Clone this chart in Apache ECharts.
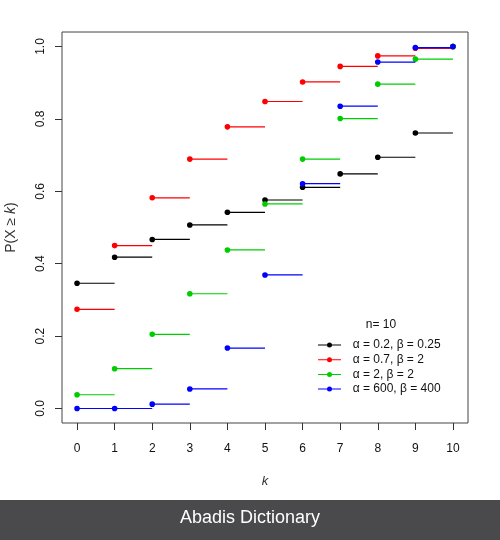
<!DOCTYPE html>
<html>
<head>
<meta charset="utf-8">
<script src="https://cdn.jsdelivr.net/npm/echarts@6/dist/echarts.min.js"></script>
<style>html,body{margin:0;padding:0;background:#fff}#c{width:500px;height:540px}</style>
</head>
<body>
<div id="c"></div>
<script>
// Data
var ks = [0,1,2,3,4,5,6,7,8,9,10];
var xTicks = [0,1,2,3,4,5,6,7,8,9,10];
var yTicks = [0,0.2,0.4,0.6,0.8,1.0];
var seriesNames = ['α = 0.2, β = 0.25','α = 0.7, β = 2','α = 2, β = 2','α = 600, β = 400'];
var seriesColors = ['#000000','#ff0000','#00cd00','#0000ff'];
var black = [0.346,0.418,0.467,0.507,0.542,0.576,0.611,0.648,0.694,0.761,1.0];
var red   = [0.274,0.450,0.582,0.689,0.778,0.848,0.902,0.945,0.974,0.995,1.0];
var green = [0.038,0.110,0.205,0.317,0.438,0.565,0.689,0.801,0.896,0.965,1.0];
var blue  = [0.000,0.000,0.012,0.054,0.167,0.369,0.621,0.835,0.957,0.997,1.0];
var legendTitle = 'n= 10';
var bannerText = 'Abadis Dictionary';

var FONT = "'Liberation Sans', Arial, sans-serif";
var allVals = [black, red, green, blue];
var lastK = ks[ks.length - 1];

function renderItem(params, api) {
  var k = api.value(0), v = api.value(1);
  var color = api.visual('color');
  var p0 = api.coord([k, v]);
  var children = [];
  if (k < lastK) {
    var p1 = api.coord([k + 1, v]);
    children.push({type:'line', shape:{x1:p0[0], y1:p0[1], x2:p1[0], y2:p1[1]},
      style:{stroke:color, lineWidth:1.2}});
  }
  children.push({type:'circle', shape:{cx:p0[0], cy:p0[1], r:2.8}, style:{fill:color}});
  return {type:'group', children:children};
}

var series = allVals.map(function(vals, i){
  return {
    type:'custom', name:seriesNames[i], renderItem:renderItem,
    itemStyle:{color:seriesColors[i]},
    data: ks.map(function(k, j){ return [k, vals[j]]; }),
    encode:{x:0, y:1}, z: 2 + i
  };
});

var iconPath = 'path://M0,2H9.5V3H0Z M13.5,2H23V3H13.5Z M9,2.5A2.5,2.5 0 1,1 14,2.5A2.5,2.5 0 1,1 9,2.5Z';

var chart = echarts.init(document.getElementById('c'), null, {renderer:'canvas'});
chart.setOption({
  animation:false,
  textStyle:{fontFamily:FONT},
  title:[{text:legendTitle, left:381, top:318, textAlign:'center', padding:0,
    textStyle:{fontSize:12, fontWeight:'normal', color:'#111', fontFamily:FONT, lineHeight:14}}],
  legend:{
    orient:'vertical', left:318, top:338, itemWidth:23, itemHeight:5, itemGap:0.7,
    padding:0, selectedMode:false,
    data: seriesNames.map(function(n){ return {name:n, icon:iconPath}; }),
    formatter:function(n){ return '  ' + n; },
    textStyle:{fontSize:12, color:'#111', fontFamily:FONT, lineHeight:14}
  },
  grid:{left:62, right:32, top:32, bottom:117, containLabel:false, outerBoundsMode:'none',
    show:true, borderColor:'#444', borderWidth:1, backgroundColor:'#fff'},
  xAxis:{
    type:'value', min:-0.4, max:10.4,
    name:'k', nameLocation:'middle', nameGap:52, nameMoveOverlap:false,
    nameTextStyle:{fontStyle:'italic', fontSize:13, color:'#333', fontFamily:FONT},
    axisLine:{show:false, onZero:false},
    splitLine:{show:false},
    axisTick:{show:true, inside:false, length:7, lineStyle:{color:'#333'}, customValues:xTicks},
    axisLabel:{show:true, margin:20, fontSize:12, color:'#111', fontFamily:FONT, customValues:xTicks,
      formatter:function(v){ return String(v); }}
  },
  yAxis:{
    type:'value', min:-0.04, max:1.04,
    name:'{a|P(X ≥ }{b|k}{a|)}', nameLocation:'middle', nameGap:44, nameRotate:90, nameMoveOverlap:false,
    nameTextStyle:{rich:{a:{fontSize:14, color:'#333', fontFamily:FONT}, b:{fontSize:14, color:'#333', fontStyle:'italic', fontFamily:FONT}}},
    axisLine:{show:false, onZero:false},
    splitLine:{show:false},
    axisTick:{show:true, inside:false, length:7, lineStyle:{color:'#333'}, customValues:yTicks},
    axisLabel:{show:true, rotate:90, margin:15, fontSize:12, color:'#111', fontFamily:FONT, customValues:yTicks,
      formatter:function(v){ return v.toFixed(1); }}
  },
  graphic:[
    {type:'rect', left:0, top:500, shape:{width:500, height:40}, style:{fill:'#4a494b'}, z:10},
    {type:'text', left:'center', top:509, style:{text:bannerText, fill:'#ffffff', fontSize:18, fontFamily:FONT}, z:11}
  ],
  series:series
});
</script>
</body>
</html>
